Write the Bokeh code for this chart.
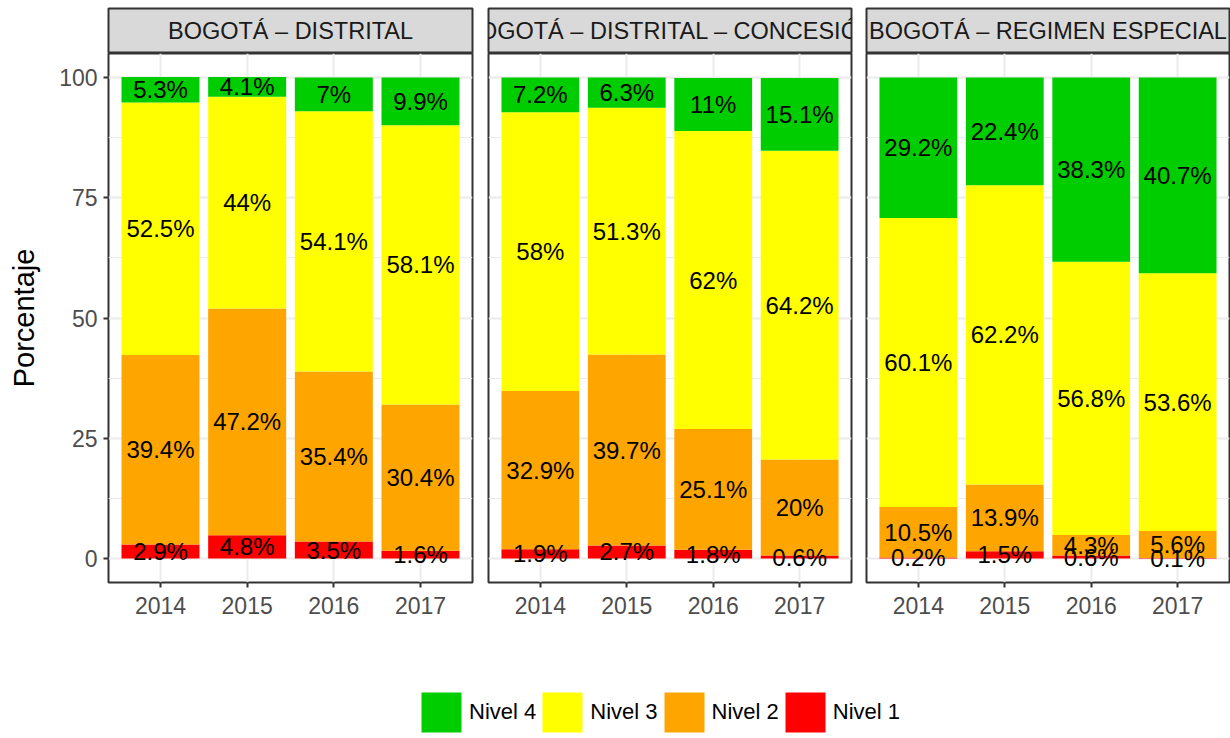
from bokeh.plotting import figure
from bokeh.layouts import row, column
from bokeh.models import ColumnDataSource, FixedTicker, Range1d, Legend, LegendItem
from bokeh.core.properties import value
from bokeh.embed import file_html
from bokeh.resources import INLINE

# ---------------- data ----------------
years = ["2014", "2015", "2016", "2017"]
panel_titles = ["BOGOTÁ – DISTRITAL", "BOGOTÁ – DISTRITAL – CONCESIÓN", "BOGOTÁ – REGIMEN ESPECIAL"]
level_names = ["Nivel 1", "Nivel 2", "Nivel 3", "Nivel 4"]
level_colors = ["#FF0000", "#FFA500", "#FFFF00", "#00CD00"]
y_ticks = [0, 25, 50, 75, 100]

distrital_n1 = [2.9, 4.8, 3.5, 1.6]
distrital_n2 = [39.4, 47.2, 35.4, 30.4]
distrital_n3 = [52.5, 44.0, 54.1, 58.1]
distrital_n4 = [5.3, 4.1, 7.0, 9.9]

concesion_n1 = [1.9, 2.7, 1.8, 0.6]
concesion_n2 = [32.9, 39.7, 25.1, 20.0]
concesion_n3 = [58.0, 51.3, 62.0, 64.2]
concesion_n4 = [7.2, 6.3, 11.0, 15.1]

especial_n1 = [0.2, 1.5, 0.6, 0.1]
especial_n2 = [10.5, 13.9, 4.3, 5.6]
especial_n3 = [60.1, 62.2, 56.8, 53.6]
especial_n4 = [29.2, 22.4, 38.3, 40.7]

# ---------------- styling ----------------
FONT = "Liberation Sans"
FRAME_H = 529
BOTTOM = 40
STRIP_TOP = 8
STRIP_FRAME = 45
# (left border, frame width, right border) per panel
GEOM = [(108, 364, 2), (14, 363, 2), (13, 363, 1)]


def fmt(v):
    return f"{v:g}%"


def make_panel(title, n1, n2, n3, n4, geom, first):
    left, frame_w, right = geom
    width = left + frame_w + right

    # strip header
    s = figure(width=width, height=STRIP_TOP + STRIP_FRAME, x_range=Range1d(0, 1), y_range=Range1d(0, 1),
               x_axis_location=None, y_axis_location=None, toolbar_location=None,
               output_backend="svg", min_border_left=left, min_border_right=right,
               min_border_top=STRIP_TOP, min_border_bottom=0)
    s.grid.visible = False
    s.background_fill_color = "#D9D9D9"
    s.border_fill_color = "white"
    s.outline_line_color = "#333333"
    s.outline_line_width = 2
    s.text(x=[0.5], y=[0.5], text=[title], text_align="center", text_baseline="middle",
           text_font=value(FONT), text_font_size="23.5px", text_color="#1A1A1A")

    # panel
    xs = list(range(1, len(years) + 1))
    p = figure(width=width, height=FRAME_H + BOTTOM, x_range=Range1d(0.4, len(years) + 0.6),
               y_range=Range1d(-5, 105), y_axis_location="left" if first else None,
               toolbar_location=None, output_backend="svg",
               min_border_left=left, min_border_right=right, min_border_top=0,
               min_border_bottom=BOTTOM)
    p.background_fill_color = "white"
    p.border_fill_color = "white"
    p.outline_line_color = "#333333"
    p.outline_line_width = 2

    p.xgrid.ticker = FixedTicker(ticks=xs)
    p.ygrid.ticker = FixedTicker(ticks=y_ticks, minor_ticks=[12.5, 37.5, 62.5, 87.5])
    p.grid.grid_line_color = "#EBEBEB"
    p.grid.grid_line_width = 2
    p.ygrid.minor_grid_line_color = "#EBEBEB"
    p.ygrid.minor_grid_line_width = 1

    src = ColumnDataSource(dict(x=xs, n1=n1, n2=n2, n3=n3, n4=n4))
    p.vbar_stack(["n1", "n2", "n3", "n4"], x="x", width=0.9, source=src,
                 fill_color=level_colors, line_color=None)

    # labels centred in each segment
    lx, ly, lt = [], [], []
    for i, x in enumerate(xs):
        base = 0.0
        for arr in (n1, n2, n3, n4):
            v = arr[i]
            lx.append(x)
            ly.append(base + v / 2.0)
            lt.append(fmt(v))
            base += v
    p.text(x=lx, y=ly, text=lt, text_align="center", text_baseline="middle",
           text_font=value(FONT), text_font_size="24px", text_color="black")

    p.xaxis.ticker = FixedTicker(ticks=xs)
    p.xaxis.major_label_overrides = {x: y for x, y in zip(xs, years)}
    for ax in p.axis:
        ax.axis_line_color = None
        ax.major_tick_line_color = "#333333"
        ax.major_tick_line_width = 2
        ax.major_tick_out = 5
        ax.major_tick_in = 0
        ax.minor_tick_line_color = None
        ax.major_label_text_font = FONT
        ax.major_label_text_font_size = "23px"
        ax.major_label_text_color = "#4D4D4D"
    p.xaxis.major_label_standoff = 9
    if first:
        p.yaxis.major_label_standoff = 6
        p.yaxis.ticker = FixedTicker(ticks=y_ticks)
        p.yaxis.axis_label = "Porcentaje"
        p.yaxis.axis_label_text_font = FONT
        p.yaxis.axis_label_text_font_size = "29px"
        p.yaxis.axis_label_text_font_style = "normal"
        p.yaxis.axis_label_text_color = "black"
        p.yaxis.axis_label_standoff = 16
    return column(s, p)


c1 = make_panel(panel_titles[0], distrital_n1, distrital_n2, distrital_n3, distrital_n4, GEOM[0], True)
c2 = make_panel(panel_titles[1], concesion_n1, concesion_n2, concesion_n3, concesion_n4, GEOM[1], False)
c3 = make_panel(panel_titles[2], especial_n1, especial_n2, especial_n3, especial_n4, GEOM[2], False)

total_w = sum(sum(g) for g in GEOM)

# legend figure (legend-only; its bars sit outside the visible range)
lg = figure(width=total_w, height=116, x_range=Range1d(0, 1), y_range=Range1d(0, 1),
            x_axis_location=None, y_axis_location=None, toolbar_location=None,
            output_backend="svg", min_border=0)
lg.grid.visible = False
lg.outline_line_color = None
rends = {}
for name, col in zip(level_names, level_colors):
    rends[name] = lg.vbar(x=[-10], top=[-10], width=0.5, fill_color=col, line_color=None)
items = [LegendItem(label=n, renderers=[rends[n]]) for n in reversed(level_names)]
legend = Legend(items=items, orientation="horizontal", location=(416, 1),
                glyph_width=50, glyph_height=50, label_standoff=3, spacing=1,
                padding=0, margin=0, border_line_color=None, background_fill_alpha=0,
                label_text_font=FONT, label_text_font_size="22px", label_text_color="black")
lg.add_layout(legend, "center")

layout = column(row(c1, c2, c3), lg)

open("out.html", "w").write(file_html(layout, INLINE))
